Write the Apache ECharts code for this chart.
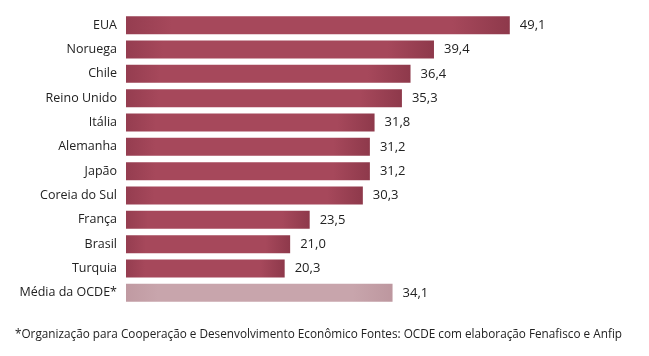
<!DOCTYPE html>
<html>
<head>
<meta charset="utf-8">
<script src="https://cdn.jsdelivr.net/npm/echarts@6/dist/echarts.min.js"></script>
<style>
html,body{margin:0;padding:0;background:#fff;}
#c{width:649px;height:356px;}
</style>
</head>
<body>
<div id="c"></div>
<script>
const categories = ["EUA","Noruega","Chile","Reino Unido","Itália","Alemanha","Japão","Coreia do Sul","França","Brasil","Turquia","Média da OCDE*"];
const values = [49.1,39.4,36.4,35.3,31.8,31.2,31.2,30.3,23.5,21.0,20.3,34.1];
const footnote = "*Organização para Cooperação e Desenvolvimento Econômico Fontes: OCDE com elaboração Fenafisco e Anfip";

const FONT = '"Open Sans", sans-serif';
const mainColor = new echarts.graphic.LinearGradient(0,0,1,0,[
  {offset:0,color:'#953d50'},{offset:0.12,color:'#a6485b'},{offset:0.85,color:'#a6485b'},{offset:1,color:'#8e394b'}
]);
const avgColor = new echarts.graphic.LinearGradient(0,0,1,0,[
  {offset:0,color:'#c09aa2'},{offset:0.12,color:'#c8a5ac'},{offset:0.85,color:'#c8a5ac'},{offset:1,color:'#bd979f'}
]);

const chart = echarts.init(document.getElementById('c'));
chart.setOption({
  animation:false,
  grid:{left:126, top:13, width:469, height:292, containLabel:false},
  xAxis:{type:'value', min:0, max:60, show:false},
  yAxis:{type:'category', data:categories, inverse:true,
    axisLine:{show:false}, axisTick:{show:false},
    axisLabel:{color:'#222', fontFamily:FONT, fontSize:12.5, margin:9}},
  series:[{
    type:'bar', barWidth:18,
    data: values.map((v,i)=>({value:v, itemStyle:{color: i===values.length-1 ? avgColor : mainColor}})),
    label:{show:true, position:'right', distance:10, color:'#222', fontFamily:FONT, fontSize:13,
      formatter:p=>p.value.toFixed(1).replace('.',',')}
  }],
  graphic:[{type:'text', x:15, y:328, scaleX:0.94, style:{text:footnote, fill:'#222', font:'12.5px '+FONT}}]
});
</script>
</body>
</html>
